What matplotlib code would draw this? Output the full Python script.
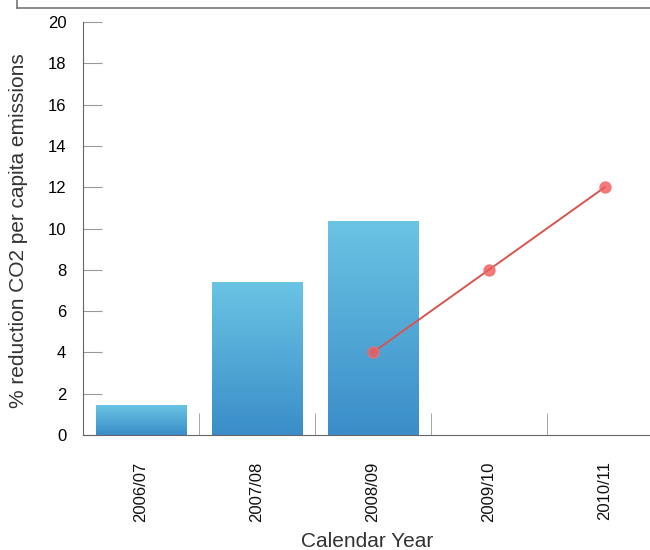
import numpy as np
import matplotlib
matplotlib.use("Agg")
import matplotlib.pyplot as plt
from matplotlib import font_manager

years = ["2006/07", "2007/08", "2008/09", "2009/10", "2010/11"]
actual = [1.45, 7.4, 10.35]
target_years = ["2008/09", "2009/10", "2010/11"]
target = [4, 8, 12]

names = {f.name for f in font_manager.fontManager.ttflist}
print(sorted(n for n in names if "Narrow" in n or "Condensed" in n))
narrow = "Liberation Sans Narrow" in names
plt.rcParams['font.family'] = (['Liberation Sans Narrow'] if narrow else []) + ['Liberation Sans', 'DejaVu Sans']
k = 1.22 if narrow else 1.0

fig = plt.figure(figsize=(6.5, 5.5), dpi=100)
ax = fig.add_axes([0.1277, 0.209, 0.892, 0.751])

x = np.arange(len(years))
bar_w = 0.78
grad = np.linspace(0, 1, 256).reshape(-1, 1)
cmap = matplotlib.colors.LinearSegmentedColormap.from_list("b", ["#3a8dc8", "#6ac4e4"])
bars = ax.bar(x[:len(actual)], actual, width=bar_w, color="none")
for b in bars:
    x0, y0 = b.get_x(), b.get_y()
    im = ax.imshow(grad, cmap=cmap, origin="lower", aspect="auto",
                   extent=[x0, x0 + b.get_width(), y0, y0 + b.get_height()], zorder=2)
    im.set_clip_path(b)

tx = [years.index(t) for t in target_years]
ax.plot(tx, target, color="#d9534f", lw=1.4, zorder=3)
ax.plot(tx, target, "o", color="#f05a5a", ms=8, alpha=0.8, mec="#f07070", zorder=4)

ax.set_xlim(-0.5, 4.5)
ax.set_ylim(0, 20)
ax.set_yticks(range(0, 21, 2))
ax.set_xticks(x)
ax.set_xticklabels(years, rotation=90, fontsize=12 * k, color="#111111")
ax.set_xticks(np.arange(0.5, 4.6, 1), minor=True)
ax.tick_params(axis="x", which="major", length=0, pad=19)
ax.tick_params(axis="x", which="minor", direction="in", length=16, color="#999999")
ax.tick_params(axis="y", direction="in", length=14, color="#999999", pad=12, labelsize=12 * k)

for s in ["top", "right"]:
    ax.spines[s].set_visible(False)
for s in ["left", "bottom"]:
    ax.spines[s].set_color("#666666")

fig.text(19 / 650, 1 - 231 / 550, "% reduction CO2 per capita emissions", rotation=90,
         ha="center", va="center", fontsize=15, color="#333333")
fig.text(367 / 650, 1 - 532 / 550, "Calendar Year", ha="center", va="top",
         fontsize=15, color="#333333")

# cut-off frame from the panel above
fig.add_artist(plt.Line2D([17 / 650, 1], [1 - 8 / 550, 1 - 8 / 550], color="#777777", lw=1.2))
fig.add_artist(plt.Line2D([17 / 650, 17 / 650], [1 - 8 / 550, 1], color="#777777", lw=1.2))

fig.savefig("out.png", dpi=100)
